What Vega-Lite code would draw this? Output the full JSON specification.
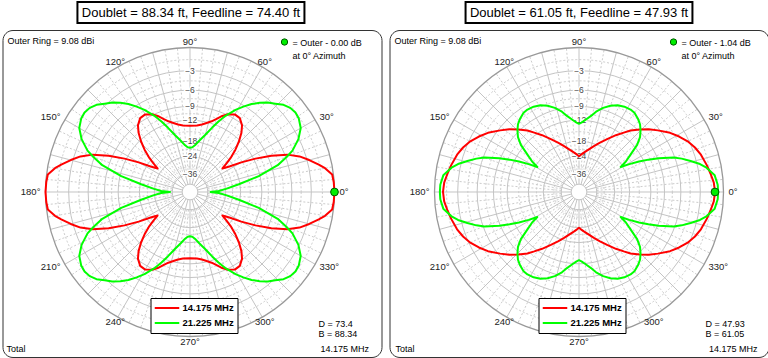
{
"$schema": "https://vega.github.io/schema/vega-lite/v6.json",
"autosize": {"type": "pad"},
"padding": {"left": 1.5, "top": 0, "right": 1.5, "bottom": 1.5},
"background": "white",
"spacing": 6,
"datasets": {
"dashRings": [{"db":-1.5},{"db":-4.5},{"db":-7.5},{"db":-10.5},{"db":-15},{"db":-21},{"db":-30}],
"solidRings": [{"db":-3},{"db":-6},{"db":-9},{"db":-12},{"db":-18},{"db":-24},{"db":-36},{"db":-50}],
"outerRing": [{"db":0}],
"spokes15": [{"az":0},{"az":15},{"az":30},{"az":45},{"az":60},{"az":75},{"az":90},{"az":105},{"az":120},{"az":135},{"az":150},{"az":165},{"az":180},{"az":195},{"az":210},{"az":225},{"az":240},{"az":255},{"az":270},{"az":285},{"az":300},{"az":315},{"az":330},{"az":345}],
"spokes5": [{"az":5},{"az":10},{"az":20},{"az":25},{"az":35},{"az":40},{"az":50},{"az":55},{"az":65},{"az":70},{"az":80},{"az":85},{"az":95},{"az":100},{"az":110},{"az":115},{"az":125},{"az":130},{"az":140},{"az":145},{"az":155},{"az":160},{"az":170},{"az":175},{"az":185},{"az":190},{"az":200},{"az":205},{"az":215},{"az":220},{"az":230},{"az":235},{"az":245},{"az":250},{"az":260},{"az":265},{"az":275},{"az":280},{"az":290},{"az":295},{"az":305},{"az":310},{"az":320},{"az":325},{"az":335},{"az":340},{"az":350},{"az":355}],
"angles": [{"az":0},{"az":30},{"az":60},{"az":90},{"az":120},{"az":150},{"az":180},{"az":210},{"az":240},{"az":270},{"az":300},{"az":330}],
"Lmax": [{"az":0,"db":0}],
"Rmax": [{"az":0,"db":-1.04}],
"L14": [{"az":0,"db":0},{"az":4,"db":-0.05},{"az":7,"db":-0.15},{"az":10,"db":-0.9},{"az":12,"db":-1.6},{"az":15,"db":-2.7},{"az":18,"db":-3.9},{"az":21,"db":-5.6},{"az":24,"db":-8.3},{"az":27,"db":-11.6},{"az":30,"db":-15.3},{"az":33,"db":-19.3},{"az":36,"db":-22},{"az":38,"db":-19.5},{"az":40,"db":-17.2},{"az":43,"db":-14.5},{"az":46,"db":-12.3},{"az":49,"db":-10.5},{"az":52,"db":-9.2},{"az":56,"db":-8.3},{"az":60,"db":-8.2},{"az":64,"db":-8.8},{"az":67,"db":-9.6},{"az":70,"db":-10.6},{"az":73,"db":-11.5},{"az":77,"db":-12.3},{"az":80,"db":-12.8},{"az":84,"db":-13.2},{"az":90,"db":-13.4},
{"az":96,"db":-13.2},{"az":100,"db":-12.8},{"az":103,"db":-12.3},{"az":107,"db":-11.5},{"az":110,"db":-10.6},{"az":113,"db":-9.6},{"az":116,"db":-8.8},{"az":120,"db":-8.2},{"az":124,"db":-8.3},{"az":128,"db":-9.2},{"az":131,"db":-10.5},{"az":134,"db":-12.3},{"az":137,"db":-14.5},{"az":140,"db":-17.2},{"az":142,"db":-19.5},{"az":144,"db":-22},{"az":147,"db":-19.3},{"az":150,"db":-15.3},{"az":153,"db":-11.6},{"az":156,"db":-8.3},{"az":159,"db":-5.6},{"az":162,"db":-3.9},{"az":165,"db":-2.7},{"az":168,"db":-1.6},{"az":170,"db":-0.9},{"az":173,"db":-0.15},{"az":176,"db":-0.05},{"az":180,"db":0},
{"az":184,"db":-0.05},{"az":187,"db":-0.15},{"az":190,"db":-0.9},{"az":192,"db":-1.6},{"az":195,"db":-2.7},{"az":198,"db":-3.9},{"az":201,"db":-5.6},{"az":204,"db":-8.3},{"az":207,"db":-11.6},{"az":210,"db":-15.3},{"az":213,"db":-19.3},{"az":216,"db":-22},{"az":218,"db":-19.5},{"az":220,"db":-17.2},{"az":223,"db":-14.5},{"az":226,"db":-12.3},{"az":229,"db":-10.5},{"az":232,"db":-9.2},{"az":236,"db":-8.3},{"az":240,"db":-8.2},{"az":244,"db":-8.8},{"az":247,"db":-9.6},{"az":250,"db":-10.6},{"az":253,"db":-11.5},{"az":257,"db":-12.3},{"az":260,"db":-12.8},{"az":264,"db":-13.2},{"az":270,"db":-13.4},
{"az":276,"db":-13.2},{"az":280,"db":-12.8},{"az":283,"db":-12.3},{"az":287,"db":-11.5},{"az":290,"db":-10.6},{"az":293,"db":-9.6},{"az":296,"db":-8.8},{"az":300,"db":-8.2},{"az":304,"db":-8.3},{"az":308,"db":-9.2},{"az":311,"db":-10.5},{"az":314,"db":-12.3},{"az":317,"db":-14.5},{"az":320,"db":-17.2},{"az":322,"db":-19.5},{"az":324,"db":-22},{"az":327,"db":-19.3},{"az":330,"db":-15.3},{"az":333,"db":-11.6},{"az":336,"db":-8.3},{"az":339,"db":-5.6},{"az":342,"db":-3.9},{"az":345,"db":-2.7},{"az":348,"db":-1.6},{"az":350,"db":-0.9},{"az":353,"db":-0.15},{"az":356,"db":-0.05},{"az":360,"db":0}],
"L21": [{"az":0,"db":-34},{"az":2,"db":-27.7},{"az":5,"db":-23.8},{"az":9,"db":-18.4},{"az":13,"db":-12.3},{"az":17,"db":-7.8},{"az":20,"db":-5.8},{"az":22,"db":-4.6},{"az":26,"db":-3.1},{"az":30,"db":-2.1},{"az":34,"db":-1.65},{"az":37,"db":-1.55},{"az":40,"db":-1.7},{"az":43,"db":-2.1},{"az":46,"db":-2.8},{"az":49,"db":-3.4},{"az":52,"db":-4.2},{"az":55,"db":-5.1},{"az":58,"db":-6.2},{"az":61,"db":-7.4},{"az":65,"db":-9.3},{"az":68,"db":-11},{"az":71,"db":-12.9},{"az":75,"db":-15.3},{"az":80,"db":-17.6},{"az":84,"db":-19.3},{"az":87,"db":-20.1},{"az":90,"db":-20.3},
{"az":93,"db":-20.1},{"az":96,"db":-19.3},{"az":100,"db":-17.6},{"az":105,"db":-15.3},{"az":109,"db":-12.9},{"az":112,"db":-11},{"az":115,"db":-9.3},{"az":119,"db":-7.4},{"az":122,"db":-6.2},{"az":125,"db":-5.1},{"az":128,"db":-4.2},{"az":131,"db":-3.4},{"az":134,"db":-2.8},{"az":137,"db":-2.1},{"az":140,"db":-1.7},{"az":143,"db":-1.55},{"az":146,"db":-1.65},{"az":150,"db":-2.1},{"az":154,"db":-3.1},{"az":158,"db":-4.6},{"az":160,"db":-5.8},{"az":163,"db":-7.8},{"az":167,"db":-12.3},{"az":171,"db":-18.4},{"az":175,"db":-23.8},{"az":178,"db":-27.7},{"az":180,"db":-34},
{"az":182,"db":-27.7},{"az":185,"db":-23.8},{"az":189,"db":-18.4},{"az":193,"db":-12.3},{"az":197,"db":-7.8},{"az":200,"db":-5.8},{"az":202,"db":-4.6},{"az":206,"db":-3.1},{"az":210,"db":-2.1},{"az":214,"db":-1.65},{"az":217,"db":-1.55},{"az":220,"db":-1.7},{"az":223,"db":-2.1},{"az":226,"db":-2.8},{"az":229,"db":-3.4},{"az":232,"db":-4.2},{"az":235,"db":-5.1},{"az":238,"db":-6.2},{"az":241,"db":-7.4},{"az":245,"db":-9.3},{"az":248,"db":-11},{"az":251,"db":-12.9},{"az":255,"db":-15.3},{"az":260,"db":-17.6},{"az":264,"db":-19.3},{"az":267,"db":-20.1},{"az":270,"db":-20.3},
{"az":273,"db":-20.1},{"az":276,"db":-19.3},{"az":280,"db":-17.6},{"az":285,"db":-15.3},{"az":289,"db":-12.9},{"az":292,"db":-11},{"az":295,"db":-9.3},{"az":299,"db":-7.4},{"az":302,"db":-6.2},{"az":305,"db":-5.1},{"az":308,"db":-4.2},{"az":311,"db":-3.4},{"az":314,"db":-2.8},{"az":317,"db":-2.1},{"az":320,"db":-1.7},{"az":323,"db":-1.55},{"az":326,"db":-1.65},{"az":330,"db":-2.1},{"az":334,"db":-3.1},{"az":338,"db":-4.6},{"az":340,"db":-5.8},{"az":343,"db":-7.8},{"az":347,"db":-12.3},{"az":351,"db":-18.4},{"az":355,"db":-23.8},{"az":358,"db":-27.7},{"az":360,"db":-34}],
"R14": [{"az":0,"db":-1.04},{"az":4,"db":-1.15},{"az":8,"db":-1.45},{"az":12,"db":-1.75},{"az":17,"db":-2.15},{"az":21,"db":-2.6},{"az":25,"db":-3.2},{"az":29,"db":-4},{"az":33,"db":-4.9},{"az":38,"db":-6.3},{"az":42,"db":-7.4},{"az":46,"db":-8.7},{"az":50,"db":-10.1},{"az":53,"db":-11.4},{"az":57,"db":-13},{"az":62,"db":-15.1},{"az":67,"db":-17},{"az":72,"db":-18.8},{"az":77,"db":-20.5},{"az":83,"db":-22.2},{"az":87,"db":-23.2},{"az":90,"db":-24},
{"az":93,"db":-23.2},{"az":97,"db":-22.2},{"az":103,"db":-20.5},{"az":108,"db":-18.8},{"az":113,"db":-17},{"az":118,"db":-15.1},{"az":123,"db":-13},{"az":127,"db":-11.4},{"az":130,"db":-10.1},{"az":134,"db":-8.7},{"az":138,"db":-7.4},{"az":142,"db":-6.3},{"az":147,"db":-4.9},{"az":151,"db":-4},{"az":155,"db":-3.2},{"az":159,"db":-2.6},{"az":163,"db":-2.15},{"az":168,"db":-1.75},{"az":172,"db":-1.45},{"az":176,"db":-1.15},{"az":180,"db":-1.04},
{"az":184,"db":-1.15},{"az":188,"db":-1.45},{"az":192,"db":-1.75},{"az":197,"db":-2.15},{"az":201,"db":-2.6},{"az":205,"db":-3.2},{"az":209,"db":-4},{"az":213,"db":-4.9},{"az":218,"db":-6.3},{"az":222,"db":-7.4},{"az":226,"db":-8.7},{"az":230,"db":-10.1},{"az":233,"db":-11.4},{"az":237,"db":-13},{"az":242,"db":-15.1},{"az":247,"db":-17},{"az":252,"db":-18.8},{"az":257,"db":-20.5},{"az":263,"db":-22.2},{"az":267,"db":-23.2},{"az":270,"db":-24},
{"az":273,"db":-23.2},{"az":277,"db":-22.2},{"az":283,"db":-20.5},{"az":288,"db":-18.8},{"az":293,"db":-17},{"az":298,"db":-15.1},{"az":303,"db":-13},{"az":307,"db":-11.4},{"az":310,"db":-10.1},{"az":314,"db":-8.7},{"az":318,"db":-7.4},{"az":322,"db":-6.3},{"az":327,"db":-4.9},{"az":331,"db":-4},{"az":335,"db":-3.2},{"az":339,"db":-2.6},{"az":343,"db":-2.15},{"az":348,"db":-1.75},{"az":352,"db":-1.45},{"az":356,"db":-1.15},{"az":360,"db":-1.04}],
"R21": [{"az":0,"db":-0.65},{"az":3,"db":-0.68},{"az":7,"db":-0.95},{"az":11,"db":-1.9},{"az":13,"db":-2.6},{"az":15.5,"db":-3.8},{"az":18,"db":-5},{"az":20,"db":-6.2},{"az":23,"db":-8.8},{"az":25,"db":-10.9},{"az":27,"db":-13.1},{"az":29,"db":-15.8},{"az":31,"db":-18.7},{"az":33,"db":-16.3},{"az":36,"db":-14},{"az":39,"db":-11.3},{"az":42,"db":-9.7},{"az":45,"db":-8.7},{"az":48,"db":-7.9},{"az":51,"db":-7.4},{"az":55,"db":-6.9},{"az":58,"db":-6.8},{"az":62,"db":-6.9},{"az":66,"db":-7.2},{"az":70,"db":-7.8},{"az":74,"db":-8.6},{"az":78,"db":-9.7},{"az":81,"db":-10.8},{"az":85,"db":-11.9},{"az":88,"db":-12.6},{"az":90,"db":-12.9},
{"az":92,"db":-12.6},{"az":95,"db":-11.9},{"az":99,"db":-10.8},{"az":102,"db":-9.7},{"az":106,"db":-8.6},{"az":110,"db":-7.8},{"az":114,"db":-7.2},{"az":118,"db":-6.9},{"az":122,"db":-6.8},{"az":125,"db":-6.9},{"az":129,"db":-7.4},{"az":132,"db":-7.9},{"az":135,"db":-8.7},{"az":138,"db":-9.7},{"az":141,"db":-11.3},{"az":144,"db":-14},{"az":147,"db":-16.3},{"az":149,"db":-18.7},{"az":151,"db":-15.8},{"az":153,"db":-13.1},{"az":155,"db":-10.9},{"az":157,"db":-8.8},{"az":160,"db":-6.2},{"az":162,"db":-5},{"az":164.5,"db":-3.8},{"az":167,"db":-2.6},{"az":169,"db":-1.9},{"az":173,"db":-0.95},{"az":177,"db":-0.68},{"az":180,"db":-0.65},
{"az":183,"db":-0.68},{"az":187,"db":-0.95},{"az":191,"db":-1.9},{"az":193,"db":-2.6},{"az":195.5,"db":-3.8},{"az":198,"db":-5},{"az":200,"db":-6.2},{"az":203,"db":-8.8},{"az":205,"db":-10.9},{"az":207,"db":-13.1},{"az":209,"db":-15.8},{"az":211,"db":-18.7},{"az":213,"db":-16.3},{"az":216,"db":-14},{"az":219,"db":-11.3},{"az":222,"db":-9.7},{"az":225,"db":-8.7},{"az":228,"db":-7.9},{"az":231,"db":-7.4},{"az":235,"db":-6.9},{"az":238,"db":-6.8},{"az":242,"db":-6.9},{"az":246,"db":-7.2},{"az":250,"db":-7.8},{"az":254,"db":-8.6},{"az":258,"db":-9.7},{"az":261,"db":-10.8},{"az":265,"db":-11.9},{"az":268,"db":-12.6},{"az":270,"db":-12.9},
{"az":272,"db":-12.6},{"az":275,"db":-11.9},{"az":279,"db":-10.8},{"az":282,"db":-9.7},{"az":286,"db":-8.6},{"az":290,"db":-7.8},{"az":294,"db":-7.2},{"az":298,"db":-6.9},{"az":302,"db":-6.8},{"az":305,"db":-6.9},{"az":309,"db":-7.4},{"az":312,"db":-7.9},{"az":315,"db":-8.7},{"az":318,"db":-9.7},{"az":321,"db":-11.3},{"az":324,"db":-14},{"az":327,"db":-16.3},{"az":329,"db":-18.7},{"az":331,"db":-15.8},{"az":333,"db":-13.1},{"az":335,"db":-10.9},{"az":337,"db":-8.8},{"az":340,"db":-6.2},{"az":342,"db":-5},{"az":344.5,"db":-3.8},{"az":347,"db":-2.6},{"az":349,"db":-1.9},{"az":353,"db":-0.95},{"az":357,"db":-0.68},{"az":360,"db":-0.65}]
},
"hconcat": [
{
"width": 379, "height": 327,
"layer": [
{"data":{"name":"dashRings"},"transform":[{"calculate":"pow(0.89,-datum.db/2)","as":"r"}],
 "mark":{"type":"point","shape":"circle","filled":false,"stroke":"#cccccc","strokeWidth":1,"strokeDash":[2,2],"opacity":1},
 "encoding":{"x":{"datum":0,"type":"quantitative","scale":{"domain":[-1.2976,1.3253],"nice":false,"zero":false},"axis":null},"y":{"datum":0,"type":"quantitative","scale":{"domain":[-1.1419,1.1211],"nice":false,"zero":false},"axis":null},"size":{"field":"r","type":"quantitative","scale":{"type":"pow","exponent":2,"domain":[0,1],"range":[0,83521],"zero":true,"nice":false},"legend":null}}},
{"data":{"name":"spokes5"},"transform":[{"calculate":"cos(datum.az*PI/180)","as":"c"},{"calculate":"sin(datum.az*PI/180)","as":"s"},{"calculate":"0.123*datum.c","as":"x0"},{"calculate":"0.123*datum.s","as":"y0"}],
 "mark":{"type":"rule","stroke":"#cccccc","strokeWidth":1,"strokeDash":[2,2]},
 "encoding":{"x":{"field":"x0","type":"quantitative","scale":{"domain":[-1.2976,1.3253],"nice":false,"zero":false},"axis":null},"y":{"field":"y0","type":"quantitative","scale":{"domain":[-1.1419,1.1211],"nice":false,"zero":false},"axis":null},"x2":{"field":"c"},"y2":{"field":"s"}}},
{"data":{"name":"solidRings"},"transform":[{"calculate":"pow(0.89,-datum.db/2)","as":"r"}],
 "mark":{"type":"point","shape":"circle","filled":false,"stroke":"#c4c4c4","strokeWidth":1,"opacity":1},
 "encoding":{"x":{"datum":0,"type":"quantitative","scale":{"domain":[-1.2976,1.3253],"nice":false,"zero":false},"axis":null},"y":{"datum":0,"type":"quantitative","scale":{"domain":[-1.1419,1.1211],"nice":false,"zero":false},"axis":null},"size":{"field":"r","type":"quantitative","scale":{"type":"pow","exponent":2,"domain":[0,1],"range":[0,83521],"zero":true,"nice":false},"legend":null}}},
{"data":{"name":"spokes15"},"transform":[{"calculate":"cos(datum.az*PI/180)","as":"c"},{"calculate":"sin(datum.az*PI/180)","as":"s"},{"calculate":"0.055*datum.c","as":"x0"},{"calculate":"0.055*datum.s","as":"y0"}],
 "mark":{"type":"rule","stroke":"#c4c4c4","strokeWidth":1},
 "encoding":{"x":{"field":"x0","type":"quantitative","scale":{"domain":[-1.2976,1.3253],"nice":false,"zero":false},"axis":null},"y":{"field":"y0","type":"quantitative","scale":{"domain":[-1.1419,1.1211],"nice":false,"zero":false},"axis":null},"x2":{"field":"c"},"y2":{"field":"s"}}},
{"data":{"name":"outerRing"},"transform":[{"calculate":"pow(0.89,-datum.db/2)","as":"r"}],
 "mark":{"type":"point","shape":"circle","filled":false,"stroke":"#999999","strokeWidth":1.3,"opacity":1},
 "encoding":{"x":{"datum":0,"type":"quantitative","scale":{"domain":[-1.2976,1.3253],"nice":false,"zero":false},"axis":null},"y":{"datum":0,"type":"quantitative","scale":{"domain":[-1.1419,1.1211],"nice":false,"zero":false},"axis":null},"size":{"field":"r","type":"quantitative","scale":{"type":"pow","exponent":2,"domain":[0,1],"range":[0,83521],"zero":true,"nice":false},"legend":null}}},
{"data":{"name":"solidRings"},"transform":[{"filter":"datum.db<0 && datum.db>-40"},{"calculate":"pow(0.89,-datum.db/2)","as":"r"}],
 "mark":{"type":"text","fontSize":8.5,"fill":"white","stroke":"white","strokeWidth":3,"strokeJoin":"round","align":"center","baseline":"middle"},
 "encoding":{"x":{"datum":0,"type":"quantitative","scale":{"domain":[-1.2976,1.3253],"nice":false,"zero":false},"axis":null},"y":{"field":"r","type":"quantitative","scale":{"domain":[-1.1419,1.1211],"nice":false,"zero":false},"axis":null},"text":{"field":"db","type":"quantitative"}}},
{"data":{"name":"solidRings"},"transform":[{"filter":"datum.db<0 && datum.db>-40"},{"calculate":"pow(0.89,-datum.db/2)","as":"r"}],
 "mark":{"type":"text","fontSize":8.5,"fill":"#444444","align":"center","baseline":"middle"},
 "encoding":{"x":{"datum":0,"type":"quantitative","scale":{"domain":[-1.2976,1.3253],"nice":false,"zero":false},"axis":null},"y":{"field":"r","type":"quantitative","scale":{"domain":[-1.1419,1.1211],"nice":false,"zero":false},"axis":null},"text":{"field":"db","type":"quantitative"}}},
{"data":{"name":"L14"},"transform":[{"calculate":"pow(0.89,-datum.db/2)","as":"r"},{"calculate":"datum.r*cos(datum.az*PI/180)","as":"x"},{"calculate":"datum.r*sin(datum.az*PI/180)","as":"y"}],
 "mark":{"type":"line","strokeWidth":2,"strokeJoin":"round"},
 "encoding":{"x":{"field":"x","type":"quantitative","scale":{"domain":[-1.2976,1.3253],"nice":false,"zero":false},"axis":null},"y":{"field":"y","type":"quantitative","scale":{"domain":[-1.1419,1.1211],"nice":false,"zero":false},"axis":null},"order":{"field":"az","type":"quantitative"},
 "color":{"datum":"14.175 MHz","scale":{"domain":["14.175 MHz","21.225 MHz"],"range":["#ff0000","#00ff00"]},"legend":{"orient":"none","legendX":148,"legendY":268,"title":null,"symbolType":"stroke","symbolSize":600,"symbolStrokeWidth":2,"clipHeight":14,"rowPadding":1,"padding":3,"labelOffset":2,"labelFontSize":9.5,"labelFontWeight":"bold","labelColor":"black","strokeColor":"black","fillColor":"white"}}}},
{"data":{"name":"L21"},"transform":[{"calculate":"pow(0.89,-datum.db/2)","as":"r"},{"calculate":"datum.r*cos(datum.az*PI/180)","as":"x"},{"calculate":"datum.r*sin(datum.az*PI/180)","as":"y"}],
 "mark":{"type":"line","strokeWidth":2,"strokeJoin":"round"},
 "encoding":{"x":{"field":"x","type":"quantitative","scale":{"domain":[-1.2976,1.3253],"nice":false,"zero":false},"axis":null},"y":{"field":"y","type":"quantitative","scale":{"domain":[-1.1419,1.1211],"nice":false,"zero":false},"axis":null},"order":{"field":"az","type":"quantitative"},
 "color":{"datum":"21.225 MHz","scale":{"domain":["14.175 MHz","21.225 MHz"],"range":["#ff0000","#00ff00"]}}}},
{"data":{"name":"Lmax"},"transform":[{"calculate":"pow(0.89,-datum.db/2)","as":"r"},{"calculate":"datum.r*cos(datum.az*PI/180)","as":"x"},{"calculate":"datum.r*sin(datum.az*PI/180)","as":"y"}],
 "mark":{"type":"point","filled":true,"fill":"#00ee00","stroke":"#005500","strokeWidth":1,"size":60,"opacity":1},
 "encoding":{"x":{"field":"x","type":"quantitative","scale":{"domain":[-1.2976,1.3253],"nice":false,"zero":false},"axis":null},"y":{"field":"y","type":"quantitative","scale":{"domain":[-1.1419,1.1211],"nice":false,"zero":false},"axis":null}}},
{"data":{"name":"angles"},"transform":[{"filter":"datum.az==0||datum.az==30||datum.az==330"},{"calculate":"1.035*cos(datum.az*PI/180)","as":"x"},{"calculate":"1.035*sin(datum.az*PI/180)","as":"y"},{"calculate":"datum.az+'°'","as":"lab"}],
 "mark":{"type":"text","fontSize":9.5,"fill":"#222222","align":"left","baseline":"middle"},
 "encoding":{"x":{"field":"x","type":"quantitative","scale":{"domain":[-1.2976,1.3253],"nice":false,"zero":false},"axis":null},"y":{"field":"y","type":"quantitative","scale":{"domain":[-1.1419,1.1211],"nice":false,"zero":false},"axis":null},"text":{"field":"lab"}}},
{"data":{"name":"angles"},"transform":[{"filter":"datum.az==150||datum.az==180||datum.az==210"},{"calculate":"1.035*cos(datum.az*PI/180)","as":"x"},{"calculate":"1.035*sin(datum.az*PI/180)","as":"y"},{"calculate":"datum.az+'°'","as":"lab"}],
 "mark":{"type":"text","fontSize":9.5,"fill":"#222222","align":"right","baseline":"middle"},
 "encoding":{"x":{"field":"x","type":"quantitative","scale":{"domain":[-1.2976,1.3253],"nice":false,"zero":false},"axis":null},"y":{"field":"y","type":"quantitative","scale":{"domain":[-1.1419,1.1211],"nice":false,"zero":false},"axis":null},"text":{"field":"lab"}}},
{"data":{"name":"angles"},"transform":[{"filter":"datum.az==60||datum.az==90||datum.az==120||datum.az==240||datum.az==270||datum.az==300"},{"calculate":"1.035*cos(datum.az*PI/180)","as":"x"},{"calculate":"1.035*sin(datum.az*PI/180)","as":"y"},{"calculate":"datum.az+'°'","as":"lab"}],
 "mark":{"type":"text","fontSize":9.5,"fill":"#222222","align":"center","baseline":"middle"},
 "encoding":{"x":{"field":"x","type":"quantitative","scale":{"domain":[-1.2976,1.3253],"nice":false,"zero":false},"axis":null},"y":{"field":"y","type":"quantitative","scale":{"domain":[-1.1419,1.1211],"nice":false,"zero":false},"axis":null},"text":{"field":"lab"}}},
{"data":{"values":[{}]},"mark":{"type":"text","text":"Outer Ring = 9.08 dBi","fontSize":9,"fill":"black","align":"left","baseline":"alphabetic"},
 "encoding":{"x":{"datum":-1.263,"type":"quantitative","scale":{"domain":[-1.2976,1.3253],"nice":false,"zero":false},"axis":null},"y":{"datum":1.0208,"type":"quantitative","scale":{"domain":[-1.1419,1.1211],"nice":false,"zero":false},"axis":null}}},
{"data":{"values":[{}]},"mark":{"type":"text","text":["= Outer - 0.00 dB","at 0° Azimuth"],"lineHeight":13,"fontSize":9,"fill":"black","align":"left","baseline":"alphabetic"},
 "encoding":{"x":{"datum":0.709,"type":"quantitative","scale":{"domain":[-1.2976,1.3253],"nice":false,"zero":false},"axis":null},"y":{"datum":1.0138,"type":"quantitative","scale":{"domain":[-1.1419,1.1211],"nice":false,"zero":false},"axis":null}}},
{"data":{"values":[{}]},"mark":{"type":"point","filled":true,"fill":"#00ee00","stroke":"#005500","strokeWidth":1,"size":40,"opacity":1},
 "encoding":{"x":{"datum":0.654,"type":"quantitative","scale":{"domain":[-1.2976,1.3253],"nice":false,"zero":false},"axis":null},"y":{"datum":1.038,"type":"quantitative","scale":{"domain":[-1.1419,1.1211],"nice":false,"zero":false},"axis":null}}},
{"data":{"values":[{}]},"mark":{"type":"text","text":["D = 73.4","B = 88.34"],"lineHeight":10,"fontSize":9,"fill":"black","align":"left","baseline":"alphabetic"},
 "encoding":{"x":{"datum":0.889,"type":"quantitative","scale":{"domain":[-1.2976,1.3253],"nice":false,"zero":false},"axis":null},"y":{"datum":-0.9377,"type":"quantitative","scale":{"domain":[-1.1419,1.1211],"nice":false,"zero":false},"axis":null}}},
{"data":{"values":[{}]},"mark":{"type":"text","text":"14.175 MHz","fontSize":9,"fill":"black","align":"left","baseline":"alphabetic"},
 "encoding":{"x":{"datum":0.903,"type":"quantitative","scale":{"domain":[-1.2976,1.3253],"nice":false,"zero":false},"axis":null},"y":{"datum":-1.104,"type":"quantitative","scale":{"domain":[-1.1419,1.1211],"nice":false,"zero":false},"axis":null}}},
{"data":{"values":[{}]},"mark":{"type":"text","text":"Total","fontSize":9,"fill":"black","align":"left","baseline":"alphabetic"},
 "encoding":{"x":{"datum":-1.27,"type":"quantitative","scale":{"domain":[-1.2976,1.3253],"nice":false,"zero":false},"axis":null},"y":{"datum":-1.104,"type":"quantitative","scale":{"domain":[-1.1419,1.1211],"nice":false,"zero":false},"axis":null}}},
{"data":{"values":[{}]},"mark":{"type":"rect","fill":"white","stroke":"black","strokeWidth":2},
 "encoding":{"x":{"datum":-0.779,"type":"quantitative","scale":{"domain":[-1.2976,1.3253],"nice":false,"zero":false},"axis":null},"x2":{"datum":0.792},"y":{"datum":1.3149,"type":"quantitative","scale":{"domain":[-1.1419,1.1211],"nice":false,"zero":false},"axis":null},"y2":{"datum":1.1696}}},
{"data":{"values":[{}]},"mark":{"type":"text","text":"Doublet = 88.34 ft, Feedline = 74.40 ft","font":"Liberation Sans","fontSize":13,"fill":"black","align":"center","baseline":"middle"},
 "encoding":{"x":{"datum":0.0069,"type":"quantitative","scale":{"domain":[-1.2976,1.3253],"nice":false,"zero":false},"axis":null},"y":{"datum":1.2422,"type":"quantitative","scale":{"domain":[-1.1419,1.1211],"nice":false,"zero":false},"axis":null}}}
]
},
{
"width": 379, "height": 327,
"layer": [
{"data":{"name":"dashRings"},"transform":[{"calculate":"pow(0.89,-datum.db/2)","as":"r"}],
 "mark":{"type":"point","shape":"circle","filled":false,"stroke":"#cccccc","strokeWidth":1,"strokeDash":[2,2],"opacity":1},
 "encoding":{"x":{"datum":0,"type":"quantitative","scale":{"domain":[-1.3114,1.3114],"nice":false,"zero":false},"axis":null},"y":{"datum":0,"type":"quantitative","scale":{"domain":[-1.1419,1.1211],"nice":false,"zero":false},"axis":null},"size":{"field":"r","type":"quantitative","scale":{"type":"pow","exponent":2,"domain":[0,1],"range":[0,83521],"zero":true,"nice":false},"legend":null}}},
{"data":{"name":"spokes5"},"transform":[{"calculate":"cos(datum.az*PI/180)","as":"c"},{"calculate":"sin(datum.az*PI/180)","as":"s"},{"calculate":"0.123*datum.c","as":"x0"},{"calculate":"0.123*datum.s","as":"y0"}],
 "mark":{"type":"rule","stroke":"#cccccc","strokeWidth":1,"strokeDash":[2,2]},
 "encoding":{"x":{"field":"x0","type":"quantitative","scale":{"domain":[-1.3114,1.3114],"nice":false,"zero":false},"axis":null},"y":{"field":"y0","type":"quantitative","scale":{"domain":[-1.1419,1.1211],"nice":false,"zero":false},"axis":null},"x2":{"field":"c"},"y2":{"field":"s"}}},
{"data":{"name":"solidRings"},"transform":[{"calculate":"pow(0.89,-datum.db/2)","as":"r"}],
 "mark":{"type":"point","shape":"circle","filled":false,"stroke":"#c4c4c4","strokeWidth":1,"opacity":1},
 "encoding":{"x":{"datum":0,"type":"quantitative","scale":{"domain":[-1.3114,1.3114],"nice":false,"zero":false},"axis":null},"y":{"datum":0,"type":"quantitative","scale":{"domain":[-1.1419,1.1211],"nice":false,"zero":false},"axis":null},"size":{"field":"r","type":"quantitative","scale":{"type":"pow","exponent":2,"domain":[0,1],"range":[0,83521],"zero":true,"nice":false},"legend":null}}},
{"data":{"name":"spokes15"},"transform":[{"calculate":"cos(datum.az*PI/180)","as":"c"},{"calculate":"sin(datum.az*PI/180)","as":"s"},{"calculate":"0.055*datum.c","as":"x0"},{"calculate":"0.055*datum.s","as":"y0"}],
 "mark":{"type":"rule","stroke":"#c4c4c4","strokeWidth":1},
 "encoding":{"x":{"field":"x0","type":"quantitative","scale":{"domain":[-1.3114,1.3114],"nice":false,"zero":false},"axis":null},"y":{"field":"y0","type":"quantitative","scale":{"domain":[-1.1419,1.1211],"nice":false,"zero":false},"axis":null},"x2":{"field":"c"},"y2":{"field":"s"}}},
{"data":{"name":"outerRing"},"transform":[{"calculate":"pow(0.89,-datum.db/2)","as":"r"}],
 "mark":{"type":"point","shape":"circle","filled":false,"stroke":"#999999","strokeWidth":1.3,"opacity":1},
 "encoding":{"x":{"datum":0,"type":"quantitative","scale":{"domain":[-1.3114,1.3114],"nice":false,"zero":false},"axis":null},"y":{"datum":0,"type":"quantitative","scale":{"domain":[-1.1419,1.1211],"nice":false,"zero":false},"axis":null},"size":{"field":"r","type":"quantitative","scale":{"type":"pow","exponent":2,"domain":[0,1],"range":[0,83521],"zero":true,"nice":false},"legend":null}}},
{"data":{"name":"solidRings"},"transform":[{"filter":"datum.db<0 && datum.db>-40"},{"calculate":"pow(0.89,-datum.db/2)","as":"r"}],
 "mark":{"type":"text","fontSize":8.5,"fill":"white","stroke":"white","strokeWidth":3,"strokeJoin":"round","align":"center","baseline":"middle"},
 "encoding":{"x":{"datum":0,"type":"quantitative","scale":{"domain":[-1.3114,1.3114],"nice":false,"zero":false},"axis":null},"y":{"field":"r","type":"quantitative","scale":{"domain":[-1.1419,1.1211],"nice":false,"zero":false},"axis":null},"text":{"field":"db","type":"quantitative"}}},
{"data":{"name":"solidRings"},"transform":[{"filter":"datum.db<0 && datum.db>-40"},{"calculate":"pow(0.89,-datum.db/2)","as":"r"}],
 "mark":{"type":"text","fontSize":8.5,"fill":"#444444","align":"center","baseline":"middle"},
 "encoding":{"x":{"datum":0,"type":"quantitative","scale":{"domain":[-1.3114,1.3114],"nice":false,"zero":false},"axis":null},"y":{"field":"r","type":"quantitative","scale":{"domain":[-1.1419,1.1211],"nice":false,"zero":false},"axis":null},"text":{"field":"db","type":"quantitative"}}},
{"data":{"name":"R14"},"transform":[{"calculate":"pow(0.89,-datum.db/2)","as":"r"},{"calculate":"datum.r*cos(datum.az*PI/180)","as":"x"},{"calculate":"datum.r*sin(datum.az*PI/180)","as":"y"}],
 "mark":{"type":"line","strokeWidth":2,"strokeJoin":"round"},
 "encoding":{"x":{"field":"x","type":"quantitative","scale":{"domain":[-1.3114,1.3114],"nice":false,"zero":false},"axis":null},"y":{"field":"y","type":"quantitative","scale":{"domain":[-1.1419,1.1211],"nice":false,"zero":false},"axis":null},"order":{"field":"az","type":"quantitative"},
 "color":{"datum":"14.175 MHz","scale":{"domain":["14.175 MHz","21.225 MHz"],"range":["#ff0000","#00ff00"]},"legend":{"orient":"none","legendX":149,"legendY":268,"title":null,"symbolType":"stroke","symbolSize":600,"symbolStrokeWidth":2,"clipHeight":14,"rowPadding":1,"padding":3,"labelOffset":2,"labelFontSize":9.5,"labelFontWeight":"bold","labelColor":"black","strokeColor":"black","fillColor":"white"}}}},
{"data":{"name":"R21"},"transform":[{"calculate":"pow(0.89,-datum.db/2)","as":"r"},{"calculate":"datum.r*cos(datum.az*PI/180)","as":"x"},{"calculate":"datum.r*sin(datum.az*PI/180)","as":"y"}],
 "mark":{"type":"line","strokeWidth":2,"strokeJoin":"round"},
 "encoding":{"x":{"field":"x","type":"quantitative","scale":{"domain":[-1.3114,1.3114],"nice":false,"zero":false},"axis":null},"y":{"field":"y","type":"quantitative","scale":{"domain":[-1.1419,1.1211],"nice":false,"zero":false},"axis":null},"order":{"field":"az","type":"quantitative"},
 "color":{"datum":"21.225 MHz","scale":{"domain":["14.175 MHz","21.225 MHz"],"range":["#ff0000","#00ff00"]}}}},
{"data":{"name":"Rmax"},"transform":[{"calculate":"pow(0.89,-datum.db/2)","as":"r"},{"calculate":"datum.r*cos(datum.az*PI/180)","as":"x"},{"calculate":"datum.r*sin(datum.az*PI/180)","as":"y"}],
 "mark":{"type":"point","filled":true,"fill":"#00ee00","stroke":"#005500","strokeWidth":1,"size":60,"opacity":1},
 "encoding":{"x":{"field":"x","type":"quantitative","scale":{"domain":[-1.3114,1.3114],"nice":false,"zero":false},"axis":null},"y":{"field":"y","type":"quantitative","scale":{"domain":[-1.1419,1.1211],"nice":false,"zero":false},"axis":null}}},
{"data":{"name":"angles"},"transform":[{"filter":"datum.az==0||datum.az==30||datum.az==330"},{"calculate":"1.035*cos(datum.az*PI/180)","as":"x"},{"calculate":"1.035*sin(datum.az*PI/180)","as":"y"},{"calculate":"datum.az+'°'","as":"lab"}],
 "mark":{"type":"text","fontSize":9.5,"fill":"#222222","align":"left","baseline":"middle"},
 "encoding":{"x":{"field":"x","type":"quantitative","scale":{"domain":[-1.3114,1.3114],"nice":false,"zero":false},"axis":null},"y":{"field":"y","type":"quantitative","scale":{"domain":[-1.1419,1.1211],"nice":false,"zero":false},"axis":null},"text":{"field":"lab"}}},
{"data":{"name":"angles"},"transform":[{"filter":"datum.az==150||datum.az==180||datum.az==210"},{"calculate":"1.035*cos(datum.az*PI/180)","as":"x"},{"calculate":"1.035*sin(datum.az*PI/180)","as":"y"},{"calculate":"datum.az+'°'","as":"lab"}],
 "mark":{"type":"text","fontSize":9.5,"fill":"#222222","align":"right","baseline":"middle"},
 "encoding":{"x":{"field":"x","type":"quantitative","scale":{"domain":[-1.3114,1.3114],"nice":false,"zero":false},"axis":null},"y":{"field":"y","type":"quantitative","scale":{"domain":[-1.1419,1.1211],"nice":false,"zero":false},"axis":null},"text":{"field":"lab"}}},
{"data":{"name":"angles"},"transform":[{"filter":"datum.az==60||datum.az==90||datum.az==120||datum.az==240||datum.az==270||datum.az==300"},{"calculate":"1.035*cos(datum.az*PI/180)","as":"x"},{"calculate":"1.035*sin(datum.az*PI/180)","as":"y"},{"calculate":"datum.az+'°'","as":"lab"}],
 "mark":{"type":"text","fontSize":9.5,"fill":"#222222","align":"center","baseline":"middle"},
 "encoding":{"x":{"field":"x","type":"quantitative","scale":{"domain":[-1.3114,1.3114],"nice":false,"zero":false},"axis":null},"y":{"field":"y","type":"quantitative","scale":{"domain":[-1.1419,1.1211],"nice":false,"zero":false},"axis":null},"text":{"field":"lab"}}},
{"data":{"values":[{}]},"mark":{"type":"text","text":"Outer Ring = 9.08 dBi","fontSize":9,"fill":"black","align":"left","baseline":"alphabetic"},
 "encoding":{"x":{"datum":-1.277,"type":"quantitative","scale":{"domain":[-1.3114,1.3114],"nice":false,"zero":false},"axis":null},"y":{"datum":1.0208,"type":"quantitative","scale":{"domain":[-1.1419,1.1211],"nice":false,"zero":false},"axis":null}}},
{"data":{"values":[{}]},"mark":{"type":"text","text":["= Outer - 1.04 dB","at 0° Azimuth"],"lineHeight":13,"fontSize":9,"fill":"black","align":"left","baseline":"alphabetic"},
 "encoding":{"x":{"datum":0.709,"type":"quantitative","scale":{"domain":[-1.3114,1.3114],"nice":false,"zero":false},"axis":null},"y":{"datum":1.0138,"type":"quantitative","scale":{"domain":[-1.1419,1.1211],"nice":false,"zero":false},"axis":null}}},
{"data":{"values":[{}]},"mark":{"type":"point","filled":true,"fill":"#00ee00","stroke":"#005500","strokeWidth":1,"size":40,"opacity":1},
 "encoding":{"x":{"datum":0.654,"type":"quantitative","scale":{"domain":[-1.3114,1.3114],"nice":false,"zero":false},"axis":null},"y":{"datum":1.038,"type":"quantitative","scale":{"domain":[-1.1419,1.1211],"nice":false,"zero":false},"axis":null}}},
{"data":{"values":[{}]},"mark":{"type":"text","text":["D = 47.93","B = 61.05"],"lineHeight":10,"fontSize":9,"fill":"black","align":"left","baseline":"alphabetic"},
 "encoding":{"x":{"datum":0.875,"type":"quantitative","scale":{"domain":[-1.3114,1.3114],"nice":false,"zero":false},"axis":null},"y":{"datum":-0.9377,"type":"quantitative","scale":{"domain":[-1.1419,1.1211],"nice":false,"zero":false},"axis":null}}},
{"data":{"values":[{}]},"mark":{"type":"text","text":"14.175 MHz","fontSize":9,"fill":"black","align":"left","baseline":"alphabetic"},
 "encoding":{"x":{"datum":0.9,"type":"quantitative","scale":{"domain":[-1.3114,1.3114],"nice":false,"zero":false},"axis":null},"y":{"datum":-1.104,"type":"quantitative","scale":{"domain":[-1.1419,1.1211],"nice":false,"zero":false},"axis":null}}},
{"data":{"values":[{}]},"mark":{"type":"text","text":"Total","fontSize":9,"fill":"black","align":"left","baseline":"alphabetic"},
 "encoding":{"x":{"datum":-1.27,"type":"quantitative","scale":{"domain":[-1.3114,1.3114],"nice":false,"zero":false},"axis":null},"y":{"datum":-1.104,"type":"quantitative","scale":{"domain":[-1.1419,1.1211],"nice":false,"zero":false},"axis":null}}},
{"data":{"values":[{}]},"mark":{"type":"rect","fill":"white","stroke":"black","strokeWidth":2},
 "encoding":{"x":{"datum":-0.785,"type":"quantitative","scale":{"domain":[-1.3114,1.3114],"nice":false,"zero":false},"axis":null},"x2":{"datum":0.785},"y":{"datum":1.3149,"type":"quantitative","scale":{"domain":[-1.1419,1.1211],"nice":false,"zero":false},"axis":null},"y2":{"datum":1.1696}}},
{"data":{"values":[{}]},"mark":{"type":"text","text":"Doublet = 61.05 ft, Feedline = 47.93 ft","font":"Liberation Sans","fontSize":13,"fill":"black","align":"center","baseline":"middle"},
 "encoding":{"x":{"datum":0,"type":"quantitative","scale":{"domain":[-1.3114,1.3114],"nice":false,"zero":false},"axis":null},"y":{"datum":1.2422,"type":"quantitative","scale":{"domain":[-1.1419,1.1211],"nice":false,"zero":false},"axis":null}}}
]
}
],
"resolve": {"scale": {"x": "independent", "y": "independent", "color": "independent", "size": "independent"}, "legend": {"color": "independent"}},
"config": {"view": {"stroke": "#333333", "strokeWidth": 1, "cornerRadius": 10}, "font": "Liberation Sans", "text": {"font": "Liberation Sans"}}
}
